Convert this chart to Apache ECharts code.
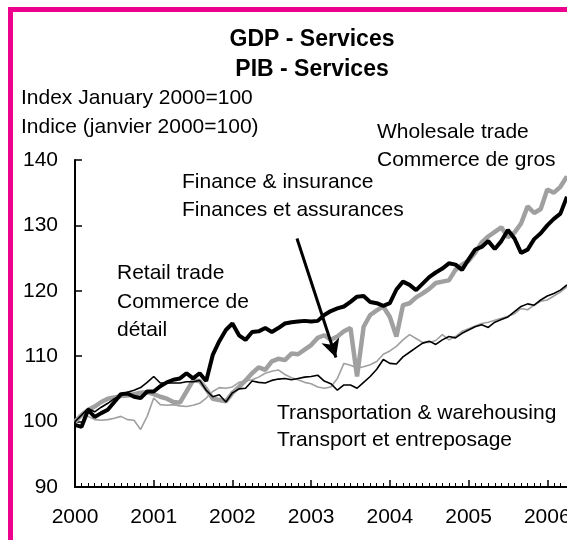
<!DOCTYPE html>
<html>
<head>
<meta charset="utf-8">
<script src="https://cdn.jsdelivr.net/npm/echarts@6/dist/echarts.min.js"></script>
<style>
  html, body { margin: 0; padding: 0; background: #fff; }
  #main { width: 567px; height: 540px; }
</style>
</head>
<body>
<div id="main"></div>
<script>
// monthly index values, January 2000 onwards
var startYear = 2000;
var retail = [99.5, 99.2, 101.8, 100.7, 101.3, 101.8, 103.0, 104.2, 104.3, 103.8,
  103.6, 104.6, 104.6, 105.4, 106.0, 106.4, 106.6, 107.4, 106.6, 107.4,
  106.2, 110.2, 112.3, 114.0, 115.0, 113.2, 112.5, 113.7, 113.8, 114.3,
  113.7, 114.3, 115.0, 115.2, 115.3, 115.4, 115.3, 115.4, 116.3, 116.9,
  117.3, 117.6, 118.3, 119.1, 119.2, 118.3, 118.1, 117.7, 118.1, 120.2,
  121.4, 120.9, 120.1, 121.1, 122.1, 122.8, 123.4, 124.2, 124.0, 123.2,
  124.8, 126.3, 126.7, 127.6, 126.4, 127.6, 129.3, 128.0, 125.8, 126.3,
  127.9, 128.8, 130.0, 131.0, 131.8, 134.4];
var wholesale = [100.0, 101.0, 101.8, 102.3, 103.0, 103.5, 103.7, 103.9, 104.0, 104.2,
  104.4, 104.5, 104.2, 103.8, 103.5, 103.0, 102.9, 104.6, 106.3, 106.2,
  105.0, 103.5, 103.3, 103.1, 104.4, 105.3, 106.3, 107.4, 108.3, 107.9,
  109.2, 109.6, 109.4, 110.4, 110.3, 111.0, 111.7, 112.8, 113.2, 112.5,
  113.0, 113.8, 114.3, 106.9, 114.5, 116.3, 117.0, 117.6, 116.0, 113.0,
  117.8, 118.1, 119.0, 119.6, 120.3, 121.2, 121.4, 121.6, 123.2, 124.0,
  124.6, 125.8, 127.4, 128.3, 129.0, 129.7, 128.2, 128.9, 130.3, 132.9,
  131.9, 132.5, 135.5, 135.0, 135.9, 137.5];
var finance = [100.0, 101.0, 100.8, 100.3, 100.2, 100.3, 100.5, 100.8, 100.3, 100.2,
  98.8, 100.8, 103.6, 102.6, 102.5, 102.6, 102.4, 102.3, 102.5, 102.8,
  103.6, 104.6, 105.2, 105.1, 105.3, 106.0, 106.2, 106.4, 106.8, 107.4,
  107.7, 107.9, 107.2, 106.7, 106.4, 106.0, 105.8, 105.3, 105.1, 105.3,
  106.6, 108.9, 108.6, 108.2, 108.4, 108.7, 109.2, 110.3, 110.8, 111.5,
  112.5, 113.3, 112.7, 112.1, 112.1, 112.4, 113.3, 112.5, 113.0, 113.8,
  114.2, 114.6, 115.0, 115.2, 115.5, 115.8, 116.1, 116.5, 117.3, 117.1,
  117.8, 118.4, 118.6, 119.2, 119.8, 120.6];
var transport = [100.0, 101.0, 102.0, 101.5, 102.2, 102.8, 103.5, 104.0, 104.5, 104.8,
  105.2, 106.0, 106.9, 105.9, 105.9, 105.9, 105.9, 106.1, 106.1, 106.3,
  104.8, 103.8, 104.1, 103.0, 104.4, 105.0, 105.1, 106.2, 106.0, 105.9,
  106.3, 106.5, 106.6, 106.4, 106.6, 106.8, 106.9, 107.1, 106.2, 105.8,
  104.8, 105.6, 105.6, 105.1, 106.0, 106.9, 108.0, 109.5, 108.9, 108.8,
  109.9, 110.6, 111.3, 112.0, 112.3, 111.8, 112.5, 113.0, 112.8, 113.5,
  114.0, 114.5, 114.8, 114.4, 115.2, 115.6, 116.0, 116.8, 117.6, 118.0,
  117.8, 118.6, 119.2, 119.6, 120.1, 120.9];
var yearTicks = [2000, 2001, 2002, 2003, 2004, 2005, 2006, 2007];
// arrow from the finance label to the 2003 dip
var arrowFrom = [2002.82, 128.0];
var arrowTo = [2003.315, 109.8];

var FONT = '"Liberation Sans", Arial, sans-serif';

function toPoints(arr) {
  return arr.map(function (v, i) { return [startYear + i / 12, v]; });
}

function label(txt, x, y) {
  return {
    type: 'text', x: x, y: y, silent: true,
    style: { text: txt, font: '21px ' + FONT, fill: '#000', verticalAlign: 'middle' }
  };
}

var chart = echarts.init(document.getElementById('main'));
chart.setOption({
  animation: false,
  backgroundColor: '#fff',
  title: {
    text: 'GDP - Services\nPIB - Services',
    left: 307, top: 20, textAlign: 'center',
    textStyle: { fontFamily: FONT, fontWeight: 'bold', fontSize: 23, lineHeight: 30, color: '#000' }
  },
  // the plot runs past the right edge, the picture is cropped there
  grid: { left: 75, top: 160, width: 551, height: 327, containLabel: false, outerBoundsMode: 'none' },
  xAxis: {
    type: 'value',
    min: yearTicks[0], max: yearTicks[yearTicks.length - 1], interval: 1,
    axisLine: { lineStyle: { color: '#000', width: 2 } },
    axisTick: { inside: true, length: 7, lineStyle: { color: '#000', width: 1.5 } },
    minorTick: { show: true, splitNumber: 12, length: 4, lineStyle: { color: '#000', width: 1 } },
    splitLine: { show: false },
    axisLabel: {
      margin: 20, fontSize: 21, fontFamily: FONT, color: '#000',
      formatter: function (v) { return yearTicks.indexOf(v) >= 0 ? String(v) : ''; }
    }
  },
  yAxis: {
    type: 'value', min: 90, max: 140, interval: 10,
    axisLine: { show: true, lineStyle: { color: '#000', width: 2 } },
    axisTick: { show: true, inside: true, length: 7, lineStyle: { color: '#000', width: 1.5 } },
    splitLine: { show: false },
    axisLabel: { margin: 17, fontSize: 21, fontFamily: FONT, color: '#000' }
  },
  series: [
    {
      name: 'Wholesale trade', type: 'line', symbol: 'none', data: toPoints(wholesale),
      lineStyle: { color: '#a0a0a0', width: 4.5 }, z: 2
    },
    {
      name: 'Finance & insurance', type: 'line', symbol: 'none', data: toPoints(finance),
      lineStyle: { color: '#a0a0a0', width: 1.6 }, z: 3
    },
    {
      name: 'Transportation & warehousing', type: 'line', symbol: 'none', data: toPoints(transport),
      lineStyle: { color: '#000', width: 1.6 }, z: 4
    },
    {
      name: 'Retail trade', type: 'line', symbol: 'none', data: toPoints(retail),
      lineStyle: { color: '#000', width: 4 }, z: 5,
      markLine: {
        silent: true, symbol: ['none', 'arrow'], symbolSize: [14, 18],
        label: { show: false },
        lineStyle: { color: '#000', width: 3, type: 'solid' },
        data: [[{ coord: arrowFrom }, { coord: arrowTo }]]
      }
    }
  ],
  graphic: [
    {
      type: 'rect', silent: true,
      shape: { x: 10.5, y: 9.5, width: 900, height: 900 },
      style: { fill: 'none', stroke: '#ec008c', lineWidth: 5 }
    },
    label('Index January 2000=100', 21, 98),
    label('Indice (janvier 2000=100)', 21, 127),
    label('Wholesale trade', 377, 132),
    label('Commerce de gros', 377, 160),
    label('Finance & insurance', 182, 182),
    label('Finances et assurances', 182, 210),
    label('Retail trade', 117, 273),
    label('Commerce de', 117, 302),
    label('détail', 117, 330),
    label('Transportation & warehousing', 277, 413),
    label('Transport et entreposage', 277, 440)
  ]
});
</script>
</body>
</html>
